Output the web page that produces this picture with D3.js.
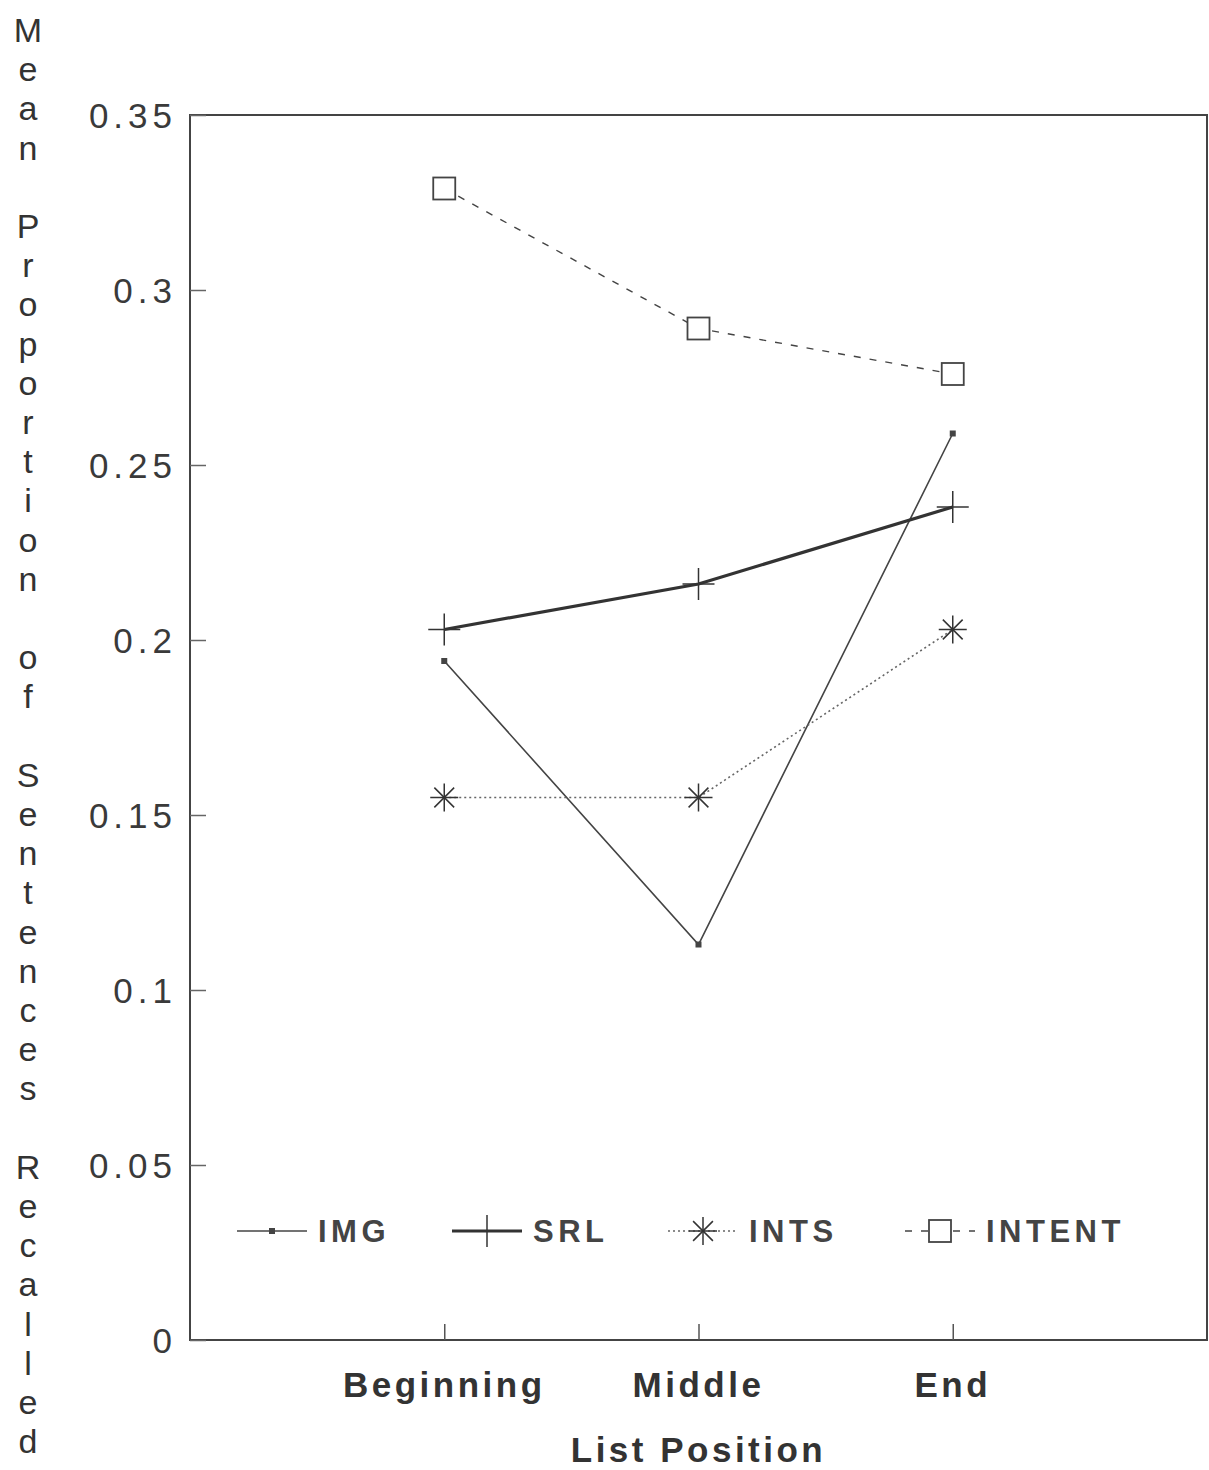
<!DOCTYPE html>
<html lang="en">
<head>
  <meta charset="UTF-8">
  <title>Mean Proportion of Sentences Recalled</title>
  <style>
    body { margin: 0; background: #fff; }
    text { font-family: "Liberation Sans", Arial, sans-serif; fill: #333; }
    .tick-label { font-size: 35px; letter-spacing: 5px; fill: #3a3a3a; }
    .cat-label { font-size: 35px; font-weight: bold; letter-spacing: 3.5px; }
    .legend-label { font-size: 31px; letter-spacing: 4.5px; font-weight: bold; fill: #444; }
  </style>
</head>
<body>
  <div class="warp"></div>
  <script src="https://cdn.jsdelivr.net/npm/d3@7/dist/d3.min.js"></script>
  <script>
    // data
    var categories = ['Beginning', 'Middle', 'End'];
    var seriesNames = ['IMG', 'SRL', 'INTS', 'INTENT'];
    var imgValues = [0.194, 0.113, 0.259];
    var srlValues = [0.203, 0.216, 0.238];
    var intsValues = [0.155, 0.155, 0.203];
    var intentValues = [0.329, 0.289, 0.276];
    var yTicks = [0, 0.05, 0.1, 0.15, 0.2, 0.25, 0.3, 0.35];
    var yTitle = 'Mean Proportion of Sentences Recalled';
    var xTitle = 'List Position';

    var W = 1209, H = 1470;
    var plotLeft = 190, plotRight = 1207, plotTop = 115, plotBottom = 1340;

    var svg = d3.select('.warp').append('svg')
      .attr('width', W)
      .attr('height', H);

    var x = d3.scalePoint().domain(categories).range([plotLeft, plotRight]).padding(1);
    var y = d3.scaleLinear().domain([0, 0.35]).range([plotBottom, plotTop]);

    // frame
    svg.append('rect')
      .attr('x', plotLeft).attr('y', plotTop)
      .attr('width', plotRight - plotLeft).attr('height', plotBottom - plotTop)
      .attr('fill', 'none').attr('stroke', '#444').attr('stroke-width', 2);

    // y axis: ticks pointing inward
    var yAxis = d3.axisRight(y).tickValues(yTicks).tickSize(16)
      .tickFormat(function (d) { return d === 0 ? '0' : String(+d.toFixed(2)); });
    var gy = svg.append('g').attr('transform', 'translate(' + plotLeft + ',0)').call(yAxis);
    gy.select('.domain').remove();
    gy.selectAll('line').attr('stroke', '#666').attr('stroke-width', 1.5);
    gy.selectAll('text')
      .attr('class', 'tick-label')
      .attr('x', -13).attr('dy', '0.35em')
      .attr('text-anchor', 'end');

    // x axis: ticks pointing up
    var xAxis = d3.axisTop(x).tickSize(16).tickFormat('');
    var gx = svg.append('g').attr('transform', 'translate(0,' + plotBottom + ')').call(xAxis);
    gx.select('.domain').remove();
    gx.selectAll('line').attr('stroke', '#555').attr('stroke-width', 1.5);
    svg.selectAll('.cat-label')
      .data(categories).enter().append('text')
      .attr('class', 'cat-label')
      .attr('x', function (d) { return x(d); })
      .attr('y', 1397)
      .attr('text-anchor', 'middle')
      .text(function (d) { return d; });

    svg.append('text').attr('class', 'cat-label')
      .attr('x', x('Middle')).attr('y', 1462)
      .attr('text-anchor', 'middle')
      .text(xTitle);

    // vertical stacked y title
    var chars = yTitle.split('');
    svg.selectAll('.ychar')
      .data(chars).enter().append('text')
      .attr('class', 'ychar')
      .attr('x', 28)
      .attr('y', function (d, i) { return 42 + i * 39.2; })
      .attr('text-anchor', 'middle')
      .style('font-size', '34px')
      .text(function (d) { return d; });

    // series styles
    var series = [
      { name: 'IMG', values: imgValues, width: 1.6, dash: null, color: '#444', marker: 'dot' },
      { name: 'SRL', values: srlValues, width: 3.2, dash: null, color: '#333', marker: 'plus' },
      { name: 'INTS', values: intsValues, width: 1.6, dash: '2,3', color: '#666', marker: 'star' },
      { name: 'INTENT', values: intentValues, width: 1.4, dash: '7,9', color: '#444', marker: 'square' }
    ];

    var line = d3.line()
      .x(function (d, i) { return x(categories[i]); })
      .y(function (d) { return y(d); });

    function drawMarker(g, type, cx, cy, color) {
      if (type === 'dot') {
        g.append('rect').attr('x', cx - 3).attr('y', cy - 3).attr('width', 6).attr('height', 6)
          .attr('fill', color);
      } else if (type === 'plus') {
        g.append('line').attr('x1', cx - 16).attr('x2', cx + 16).attr('y1', cy).attr('y2', cy)
          .attr('stroke', color).attr('stroke-width', 1.5);
        g.append('line').attr('x1', cx).attr('x2', cx).attr('y1', cy - 16).attr('y2', cy + 16)
          .attr('stroke', color).attr('stroke-width', 1.5);
      } else if (type === 'star') {
        [0, 45, 90, 135].forEach(function (a) {
          var r = a * Math.PI / 180, dx = Math.cos(r) * 14, dy = Math.sin(r) * 14;
          g.append('line').attr('x1', cx - dx).attr('x2', cx + dx).attr('y1', cy - dy).attr('y2', cy + dy)
            .attr('stroke', '#333').attr('stroke-width', 1.5);
        });
      } else if (type === 'square') {
        g.append('rect').attr('x', cx - 11).attr('y', cy - 11).attr('width', 22).attr('height', 22)
          .attr('fill', '#fff').attr('stroke', '#444').attr('stroke-width', 1.8);
      }
    }

    series.forEach(function (s) {
      var g = svg.append('g');
      g.append('path')
        .datum(s.values)
        .attr('d', line)
        .attr('fill', 'none')
        .attr('stroke', s.color)
        .attr('stroke-width', s.width)
        .attr('stroke-dasharray', s.dash);
      s.values.forEach(function (v, i) {
        drawMarker(g, s.marker, x(categories[i]), y(v), s.color);
      });
    });

    // legend
    var legendY = 1231;
    var legendX = [237, 452, 668, 905];
    series.forEach(function (s, i) {
      var g = svg.append('g');
      var x0 = legendX[i], x1 = x0 + 70;
      g.append('line').attr('x1', x0).attr('x2', x1).attr('y1', legendY).attr('y2', legendY)
        .attr('stroke', s.color).attr('stroke-width', s.width)
        .attr('stroke-dasharray', s.dash);
      drawMarker(g, s.marker, (x0 + x1) / 2, legendY, s.color);
      g.append('text').attr('class', 'legend-label')
        .attr('x', x1 + 11).attr('y', legendY + 11)
        .text(s.name);
    });
  </script>
</body>
</html>
